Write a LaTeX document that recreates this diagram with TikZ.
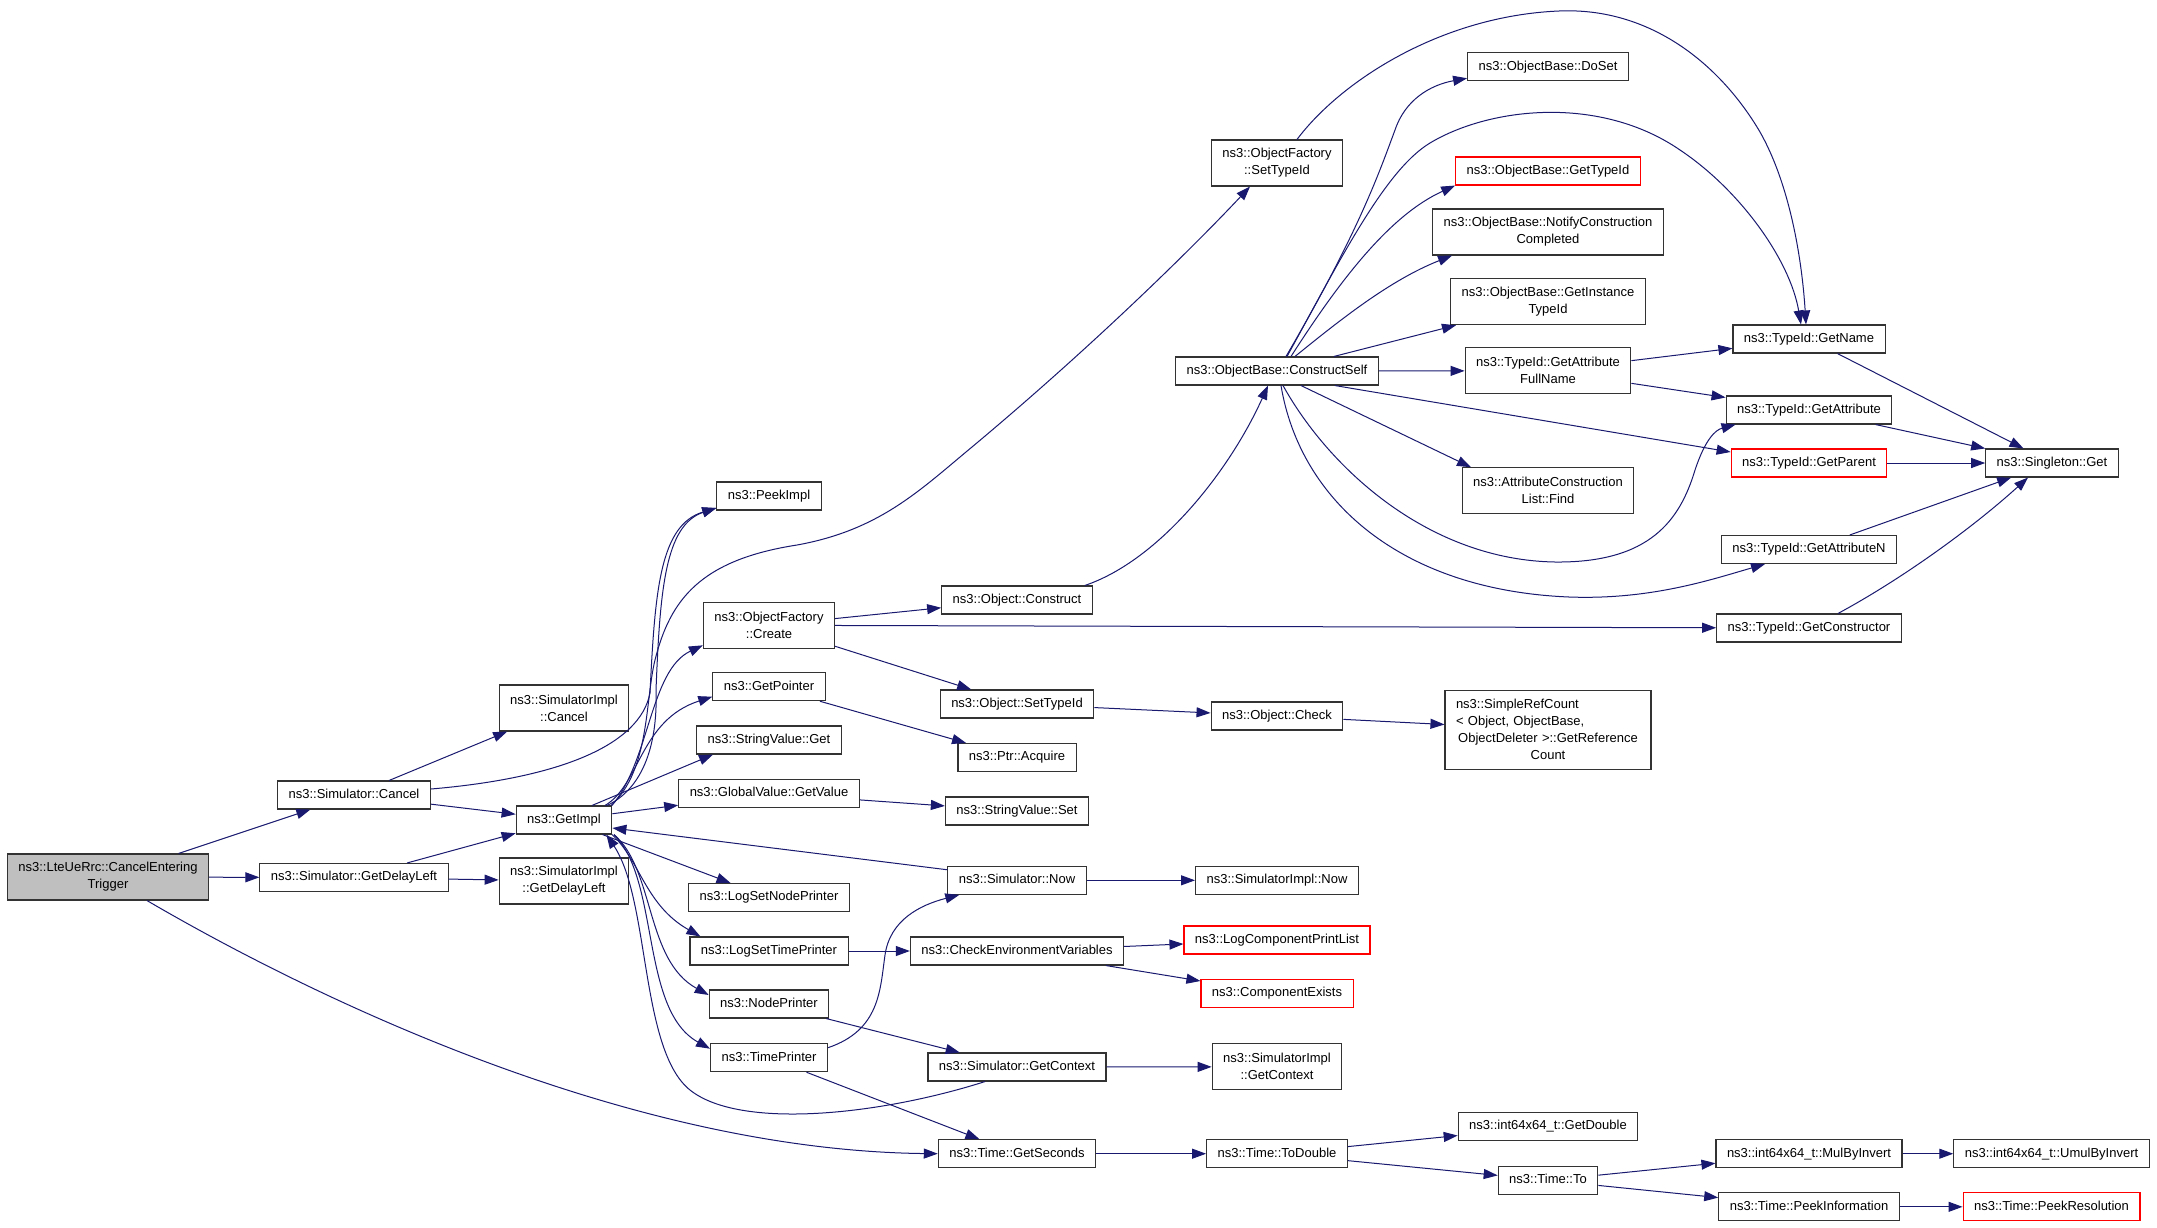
\documentclass[tikz,border=0pt]{standalone}
\usepackage{fontspec}
\setmainfont{Liberation Sans}
\usetikzlibrary{arrows.meta}
\definecolor{callblue}{HTML}{191970}
\definecolor{rootgray}{HTML}{BFBFBF}

\begin{document}
\begin{tikzpicture}[x=1pt,y=-1pt,align=center,
	call/.style={draw=callblue,line width=1pt,-{Triangle[length=14pt,width=10pt]}},
	fnbase/.style={rectangle,draw=black!80,line width=1.1pt,fill=white,font=\fontsize{13}{17}\selectfont,inner xsep=11pt,inner ysep=2pt},
	fn/.style={fnbase,minimum height=28pt,text height=9.5pt,text depth=2.7pt},
	fntwo/.style={fnbase,minimum height=46pt},
	fncut/.style={fn,draw=red}]
\path[use as bounding box,fill=white](0,0) rectangle (2157,1227);
\node[fntwo,fill=rootgray](lte) at (108,877){ns3::LteUeRrc::CancelEntering\\Trigger};
\node[fn](simcancel) at (354,795){ns3::Simulator::Cancel};
\node[fn](simdelay) at (354,877.5){ns3::Simulator::GetDelayLeft};
\node[fntwo](implcancel) at (564,708){ns3::SimulatorImpl\\::Cancel};
\node[fntwo](impldelay) at (564,881){ns3::SimulatorImpl\\::GetDelayLeft};
\node[fn](getimpl) at (564,820){ns3::GetImpl};
\node[fn](peekimpl) at (769,496){ns3::PeekImpl};
\node[fntwo](ofcreate) at (769,625.3){ns3::ObjectFactory\\::Create};
\node[fn](getpointer) at (769,686.7){ns3::GetPointer};
\node[fn](svget) at (769,740){ns3::StringValue::Get};
\node[fn](gvgetvalue) at (769,793.5){ns3::GlobalValue::GetValue};
\node[fn](logsetnode) at (769,897.5){ns3::LogSetNodePrinter};
\node[fn](logsettime) at (769,951){ns3::LogSetTimePrinter};
\node[fn](nodeprinter) at (769,1004){ns3::NodePrinter};
\node[fn](timeprinter) at (769,1057.7){ns3::TimePrinter};
\node[fntwo](ofsettypeid) at (1277,163){ns3::ObjectFactory\\::SetTypeId};
\node[fn](constructself) at (1277,371){ns3::ObjectBase::ConstructSelf};
\node[fn](objconstruct) at (1017,600){ns3::Object::Construct};
\node[fn](objsettypeid) at (1017,704){ns3::Object::SetTypeId};
\node[fn](ptracquire) at (1017,757.5){ns3::Ptr::Acquire};
\node[fn](svset) at (1017,811){ns3::StringValue::Set};
\node[fn](simnow) at (1017,880.3){ns3::Simulator::Now};
\node[fn](checkenv) at (1017,951){ns3::CheckEnvironmentVariables};
\node[fn](simgetctx) at (1017,1067){ns3::Simulator::GetContext};
\node[fn](gettimeseconds) at (1017,1153.7){ns3::Time::GetSeconds};
\node[fn](doset) at (1548,66.7){ns3::ObjectBase::DoSet};
\node[fncut](obgettypeid) at (1548,171){ns3::ObjectBase::GetTypeId};
\node[fntwo](notify) at (1548,232){ns3::ObjectBase::NotifyConstruction\\Completed};
\node[fntwo](getinstance) at (1548,301.7){ns3::ObjectBase::GetInstance\\TypeId};
\node[fntwo](getattrfull) at (1548,370.8){ns3::TypeId::GetAttribute\\FullName};
\node[fntwo](attrfind) at (1548,490.8){ns3::AttributeConstruction\\List::Find};
\node[fn](objcheck) at (1277,716){ns3::Object::Check};
\node[fnbase,minimum height=79pt,text width=184pt](refcount) at (1548,729.7){\makebox[184pt][l]{ns3::SimpleRefCount}\\\makebox[184pt][l]{< Object, ObjectBase,}\\ObjectDeleter >::GetReference\\Count};
\node[fn](implnow) at (1277,880.3){ns3::SimulatorImpl::Now};
\node[fncut](logcomp) at (1277,940){ns3::LogComponentPrintList};
\node[fncut](compexists) at (1277,993.5){ns3::ComponentExists};
\node[fntwo](implgetctx) at (1277,1066.8){ns3::SimulatorImpl\\::GetContext};
\node[fn](todouble) at (1277,1153.7){ns3::Time::ToDouble};
\node[fn](getname) at (1809,339){ns3::TypeId::GetName};
\node[fn](getattribute) at (1809,410){ns3::TypeId::GetAttribute};
\node[fncut](getparent) at (1809,463){ns3::TypeId::GetParent};
\node[fn](getattributen) at (1809,549.5){ns3::TypeId::GetAttributeN};
\node[fn](getconstructor) at (1809,628){ns3::TypeId::GetConstructor};
\node[fn](getdouble) at (1548,1126.5){ns3::int64x64\_t::GetDouble};
\node[fn](timeto) at (1548,1180.3){ns3::Time::To};
\node[fn](mulbyinvert) at (1809,1153.7){ns3::int64x64\_t::MulByInvert};
\node[fn](peekinfo) at (1809,1206.8){ns3::Time::PeekInformation};
\node[fn](singleton) at (2052,463){ns3::Singleton::Get};
\node[fn](umulbyinvert) at (2051.5,1153.7){ns3::int64x64\_t::UmulByInvert};
\node[fncut](peekres) at (2051.5,1206.8){ns3::Time::PeekResolution};
\draw[call](lte) -- (simcancel);
\draw[call](lte) -- (simdelay);
\draw[call]([xshift=39pt]lte.south) .. controls (300,990) and (620,1150) .. (gettimeseconds.west);
\draw[call](simcancel) -- (implcancel);
\draw[call](simcancel) -- (getimpl);
\draw[call]([yshift=6pt]simcancel.east) .. controls (560,778) and (640,745) .. (650,693) .. controls (655,590) and (660,525) .. ([yshift=-12pt]peekimpl.west);
\draw[call](simdelay) -- (getimpl);
\draw[call](simdelay) -- (impldelay);
\draw[call]([xshift=43pt]getimpl.north) .. controls (640,790) and (658,750) .. (656,690) .. controls (660,590) and (665,525) .. ([yshift=-12pt]peekimpl.west);
\draw[call]([xshift=47pt]getimpl.north) .. controls (650,770) and (645,700) .. (655,660) .. controls (670,600) and (700,560) .. (797,545) .. controls (880,530) and (920,490) .. (972,447) .. controls (1100,340) and (1200,240) .. ([xshift=-27pt]ofsettypeid.south);
\draw[call]([xshift=48pt]getimpl.north) .. controls (650,760) and (650,670) .. ([yshift=-20pt]ofcreate.west);
\draw[call]([xshift=41pt]getimpl.north) .. controls (640,785) and (640,720) .. ([yshift=-10pt]getpointer.west);
\draw[call]([xshift=28pt]getimpl.north) -- ([xshift=-56pt]svget.south);
\draw[call](getimpl) -- (gvgetvalue);
\draw[call](getimpl) -- (logsetnode);
\draw[call]([xshift=48pt]getimpl.south) .. controls (640,860) and (645,905) .. ([xshift=11pt]logsettime.north west);
\draw[call]([xshift=50pt]getimpl.south) .. controls (655,870) and (645,960) .. ([yshift=9pt]nodeprinter.west);
\draw[call]([xshift=50pt]getimpl.south) .. controls (660,880) and (640,1010) .. ([yshift=9pt]timeprinter.west);
\draw[call]([yshift=-4pt]simnow.north west) -- ([yshift=-8pt]getimpl.east);
\draw[call]([xshift=-32pt]simgetctx.south) .. controls (880,1115) and (740,1130) .. (690,1090) .. controls (640,1050) and (650,900) .. ([xshift=-6pt]getimpl.south east);
\draw[call](ofcreate) -- (objconstruct);
\draw[call](ofcreate) -- (getconstructor);
\draw[call](ofcreate) -- (objsettypeid);
\draw[call](getpointer) -- (ptracquire);
\draw[call](gvgetvalue) -- (svset);
\draw[call](logsettime) -- (checkenv);
\draw[call]([yshift=10pt]timeprinter.east) .. controls (880,1030) and (880,990) .. (885,955) .. controls (890,920) and (920,905) .. ([xshift=12pt]simnow.south west);
\draw[call](timeprinter) -- (gettimeseconds);
\draw[call](nodeprinter) -- (simgetctx);
\draw[call]([xshift=-8pt]objconstruct.north east) .. controls (1160,560) and (1230,470) .. ([xshift=-9pt]constructself.south);
\draw[call](objsettypeid) -- (objcheck);
\draw[call](objcheck) -- (refcount);
\draw[call](simnow) -- (implnow);
\draw[call](checkenv) -- (logcomp);
\draw[call](checkenv) -- (compexists);
\draw[call](simgetctx) -- (implgetctx);
\draw[call](gettimeseconds) -- (todouble);
\draw[call](todouble) -- (getdouble);
\draw[call](todouble) -- (timeto);
\draw[call](timeto) -- (mulbyinvert);
\draw[call](timeto) -- (peekinfo);
\draw[call](mulbyinvert) -- (umulbyinvert);
\draw[call](peekinfo) -- (peekres);
\draw[call]([xshift=20pt]ofsettypeid.north) .. controls (1340,82) and (1440,16) .. (1559,11) .. controls (1650,7) and (1720,64) .. (1760,132) .. controls (1790,185) and (1802,260) .. ([xshift=-3pt]getname.north);
\draw[call]([xshift=10pt]constructself.north) .. controls (1340,260) and (1385,170) .. (1430,143) .. controls (1490,107) and (1600,95) .. (1680,150) .. controls (1740,190) and (1790,260) .. ([xshift=-8pt]getname.north);
\draw[call]([xshift=9pt]constructself.north) .. controls (1360,230) and (1380,170) .. (1395,130) .. controls (1405,100) and (1430,85) .. ([yshift=3pt]doset.south west);
\draw[call]([xshift=14pt]constructself.north) .. controls (1340,280) and (1390,215) .. (obgettypeid.south west);
\draw[call]([xshift=18pt]constructself.north) .. controls (1340,320) and (1390,280) .. ([xshift=20pt]notify.south west);
\draw[call](constructself) -- (getinstance);
\draw[call](constructself) -- (getattrfull);
\draw[call]([xshift=58pt]constructself.south) -- ([yshift=11pt]getparent.west);
\draw[call]([xshift=24pt]constructself.south) -- ([xshift=-77pt]attrfind.north);
\draw[call]([xshift=6pt]constructself.south) .. controls (1330,470) and (1430,560) .. (1555,562) .. controls (1650,563) and (1680,520) .. (1695,470) .. controls (1705,440) and (1715,430) .. ([xshift=10pt]getattribute.south west);
\draw[call]([xshift=4pt]constructself.south) .. controls (1300,500) and (1400,590) .. (1569,597) .. controls (1650,600) and (1710,580) .. ([xshift=-44pt]getattributen.south);
\draw[call](getattrfull) -- (getname);
\draw[call](getattrfull) -- (getattribute);
\draw[call](getname) -- (singleton);
\draw[call](getattribute) -- (singleton);
\draw[call](getparent) -- (singleton);
\draw[call](getattributen) -- (singleton);
\draw[call]([xshift=29pt]getconstructor.north) .. controls (1900,580) and (1970,530) .. ([xshift=-24pt]singleton.south);
\end{tikzpicture}
\end{document}
